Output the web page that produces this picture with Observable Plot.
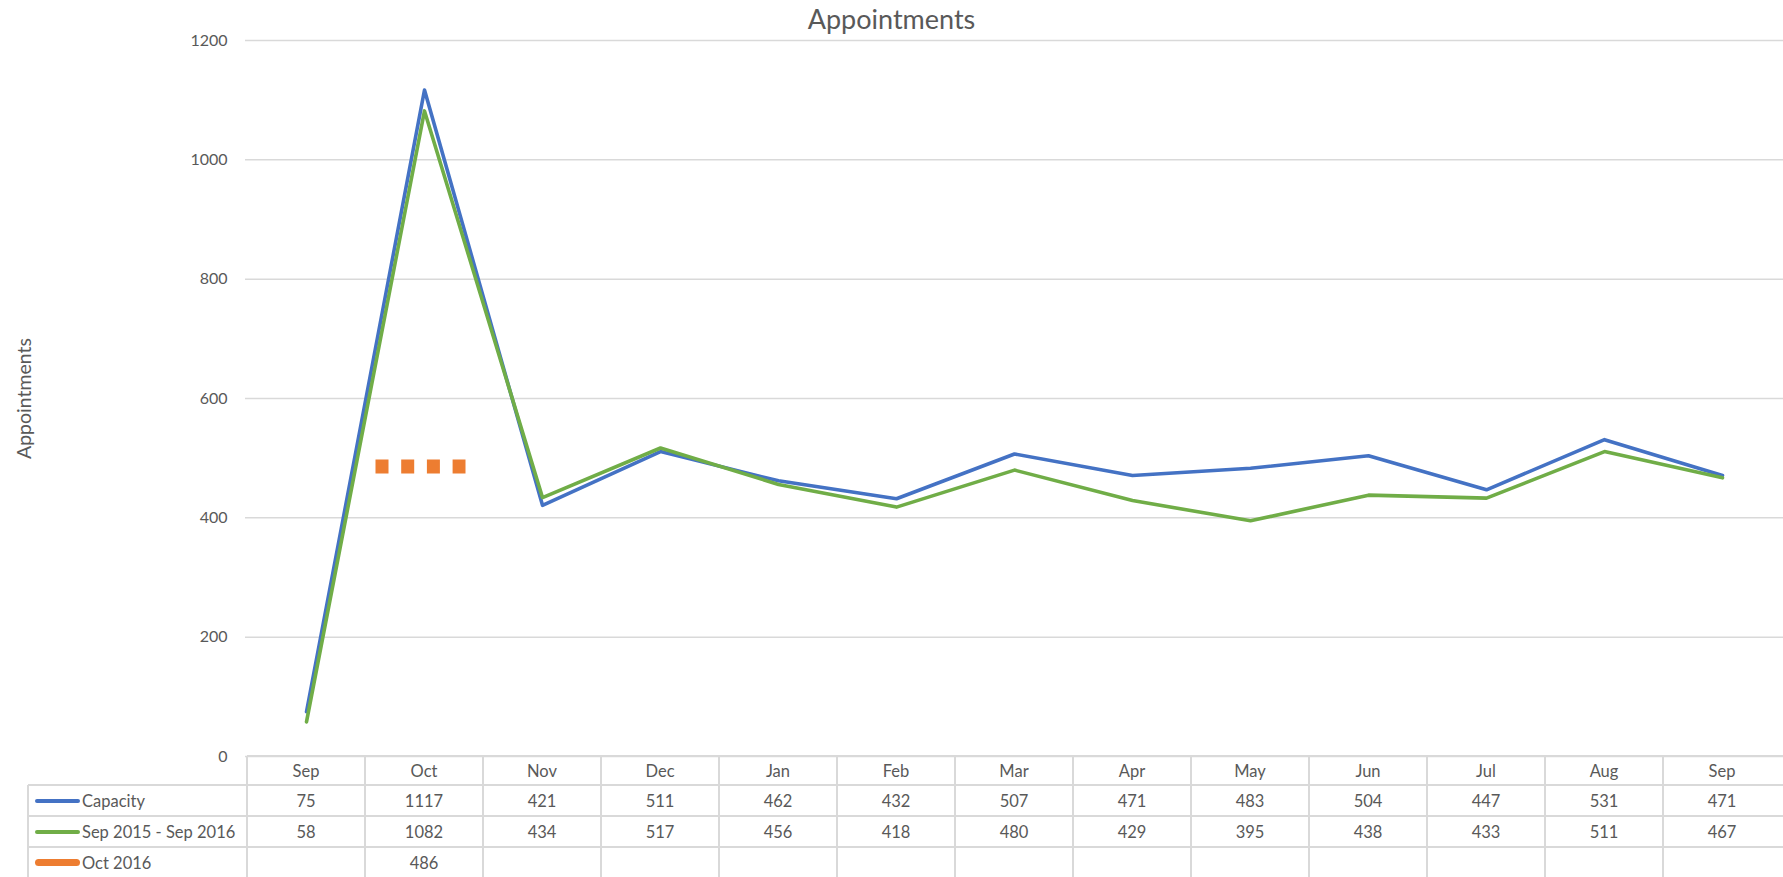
<!DOCTYPE html>
<html><head><meta charset="utf-8">
<script src="https://cdn.jsdelivr.net/npm/d3@7"></script>
<script src="https://cdn.jsdelivr.net/npm/@observablehq/plot@0.6"></script>
<style>
body{margin:0;background:#fff;font-family:Lato,"Open Sans",sans-serif;}
#wrap{position:relative;width:1783px;height:877px;overflow:hidden;}
#title{position:absolute;top:0px;left:0;width:1783px;text-align:center;font-size:27px;color:#595959;line-height:38px;}
.hl,.vl{position:absolute;background:#d9d9d9;}
.cell{position:absolute;box-sizing:border-box;display:flex;align-items:center;justify-content:center;font-size:16.5px;color:#595959;white-space:nowrap;}
.lab{position:absolute;font-size:16.5px;color:#595959;white-space:nowrap;display:flex;align-items:center;}
.key{position:absolute;}
</style></head>
<body><div id="wrap"><div id="title">Appointments</div></div>
<script>
const months = ["Sep","Oct","Nov","Dec","Jan","Feb","Mar","Apr","May","Jun","Jul","Aug","Sep"];
const capacity = [75,1117,421,511,462,432,507,471,483,504,447,531,471];
const prevYear = [58,1082,434,517,456,418,480,429,395,438,433,511,467];
const oct2016 = [null,486,null,null,null,null,null,null,null,null,null,null,null];
const seriesNames = ["Capacity","Sep 2015 - Sep 2016","Oct 2016"];
const seriesColors = ["#4472C4","#70AD47","#ED7D31"];
const yTicks = [0,200,400,600,800,1000,1200];
const chartTitle = "Appointments";
const yTitle = "Appointments";

const W = 1783, H = 877;
const idx = d3.range(months.length);
const series = [capacity, prevYear, oct2016];
const rows = series.map(s => idx.filter(i => s[i] != null).map(i => ({i, v: s[i]})));

const chart = Plot.plot({
  width: W, height: H,
  marginLeft: 245, marginRight: 0, marginTop: 40, marginBottom: 121,
  style: {fontFamily: "Lato, sans-serif", fontSize: "16px", color: "#595959", background: "transparent", overflow: "visible"},
  x: {type: "point", domain: idx, padding: 0.5, axis: null},
  y: {domain: [0, 1200], ticks: yTicks, tickFormat: "d", tickSize: 0, tickPadding: 18, label: null},
  marks: [
    Plot.ruleY(yTicks, {stroke: "#d9d9d9", strokeWidth: 1.5}),
    Plot.text([yTitle], {frameAnchor: "left", textAnchor: "middle", rotate: -90, dx: -221, fontSize: 19.5, fill: "#595959"}),
    Plot.line(rows[0], {x: "i", y: "v", stroke: seriesColors[0], strokeWidth: 3.6, strokeLinejoin: "round"}),
    Plot.line(rows[1], {x: "i", y: "v", stroke: seriesColors[1], strokeWidth: 3.6, strokeLinejoin: "round"}),
    Plot.ruleY(rows[2], {x1: "i", x2: "i", y: "v", stroke: seriesColors[2], strokeWidth: 14, strokeDasharray: "13,12.7", insetLeft: -48.5, insetRight: -41.5})
  ]
});
const wrap = document.getElementById("wrap");
document.getElementById("title").textContent = chartTitle;
chart.style.position = "absolute"; chart.style.left = "0"; chart.style.top = "0";
wrap.appendChild(chart);

// data table under the plot, aligned to the x scale
const xs = chart.scale("x");
const step = xs.apply(1) - xs.apply(0);
const x0 = xs.apply(0) - step / 2;
const rowY = [756, 785, 816, 847, 878];
const tableLeft = 28;
function add(cls, css, text) {
  const d = document.createElement("div");
  d.className = cls;
  Object.assign(d.style, css);
  if (text != null) d.textContent = text;
  wrap.appendChild(d);
  return d;
}
add("hl", {left: x0 + "px", top: (rowY[0] - 1) + "px", width: (W - x0) + "px", height: "2px"});
for (let r = 1; r < 4; r++) add("hl", {left: tableLeft + "px", top: (rowY[r] - 1) + "px", width: (W - tableLeft) + "px", height: "2px"});
add("vl", {left: (tableLeft - 1) + "px", top: rowY[1] + "px", width: "2px", height: (H - rowY[1]) + "px"});
for (let k = 0; k < months.length; k++) add("vl", {left: (x0 + k * step - 1) + "px", top: rowY[0] + "px", width: "2px", height: (H - rowY[0]) + "px"});
months.forEach((m, k) => add("cell", {left: (x0 + k * step) + "px", top: rowY[0] + "px", width: step + "px", height: (rowY[1] - rowY[0]) + "px"}, m));
series.forEach((s, r) => {
  const top = rowY[r + 1], h = rowY[r + 2] - rowY[r + 1];
  s.forEach((v, k) => { if (v != null) add("cell", {left: (x0 + k * step) + "px", top: top + "px", width: step + "px", height: h + "px"}, v); });
  const kh = r === 2 ? 7 : 4;
  add("key", {left: "35px", top: (top + h / 2 - kh / 2) + "px", width: "45px", height: kh + "px", background: seriesColors[r], borderRadius: (r === 2 ? "4px" : "2px")});
  add("lab", {left: "82px", top: top + "px", height: h + "px"}, seriesNames[r]);
});
</script>
</body></html>
